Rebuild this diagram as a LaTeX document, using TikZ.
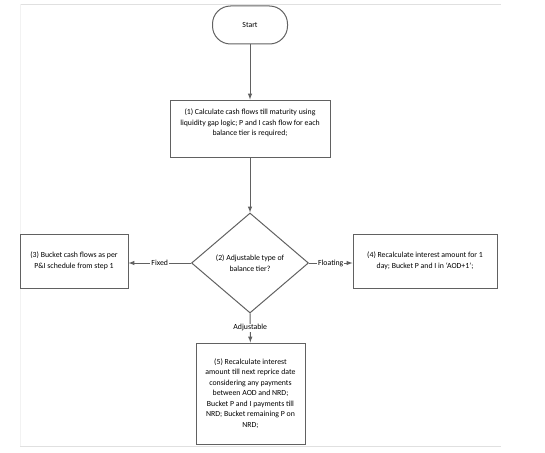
\documentclass[tikz,border=0pt]{standalone}
\usepackage{fontspec}
\setmainfont{Carlito}
\usepackage{tikz}
\usetikzlibrary{shapes.geometric,arrows}

\begin{document}
\begin{tikzpicture}[x=1pt,y=1pt,>=latex,
    every node/.style={font=\fontsize{7.8}{10.5}\selectfont},
    line/.style={draw=black!62,line width=1pt},
    terminal/.style={line,rectangle,rounded corners=18pt,minimum width=75pt,minimum height=38pt},
    box/.style={line,rectangle,align=center,inner sep=2pt},
    decision/.style={line,diamond,align=center,inner sep=0pt,minimum width=117pt,minimum height=100pt},
    lbl/.style={fill=white,inner sep=1pt}]
          \useasboundingbox (0,0) rectangle (545,-452);
          % page frame
          \draw[black!12] (20,-4) -- (501,-4);
          \draw[black!12] (20,-446) -- (501,-446);
          \draw[black!5] (20,-4) -- (20,-446);
          \node[terminal] (start) at (250,-25) {Start};
          \node[box,minimum width=160pt,minimum height=57pt] (calc) at (250,-128.5)
            {(1) Calculate cash flows till maturity using\\liquidity gap logic; P and I cash flow for each\\balance tier is required;\\[2pt]};
          \node[decision] (adj) at (250,-263) {(2) Adjustable type of\\balance tier?};
          \node[box,minimum width=108pt,minimum height=54pt] (fixed) at (74,-261)
            {(3) Bucket cash flows as per\\P\&I schedule from step 1};
          \node[box,minimum width=144pt,minimum height=54pt] (float) at (425,-261)
            {(4) Recalculate interest amount for 1\\day; Bucket P and I in `AOD+1';};
          \node[box,minimum width=109pt,minimum height=101pt] (recalc) at (250.5,-393.5)
            {(5) Recalculate interest\\amount till next reprice date\\considering any payments\\between AOD and NRD;\\Bucket P and I payments till\\NRD; Bucket remaining P on\\NRD;};
          \draw[line,->] (start) to (calc);
          \draw[line,->] (calc) to (adj);
          \draw[line,->] (adj.west) to node[lbl]{Fixed} (adj.west -| fixed.east);
          \draw[line,->] (adj.east) to node[lbl]{Floating} (adj.east -| float.west);
          \draw[line,->] (adj) to node[lbl]{Adjustable} (recalc);
        \end{tikzpicture}
\end{document}
